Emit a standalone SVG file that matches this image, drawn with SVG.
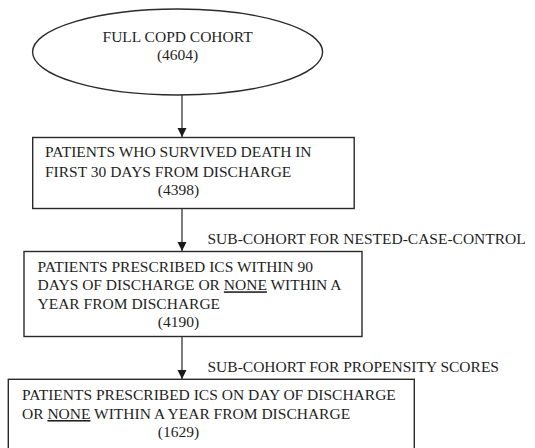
<svg xmlns="http://www.w3.org/2000/svg" width="535" height="448" viewBox="0 0 535 448">
<style>
.shape{fill:#fff;stroke:#2a2a2a;stroke-width:1.4}
.t{font-family:"Liberation Serif","Times New Roman",serif;font-size:15.5px;fill:#1e1e1e}
.c{text-anchor:middle}
.conn line{stroke:#444;stroke-width:1.4}
.u{text-decoration:underline}
</style>
<defs>
<marker id="ah" markerUnits="userSpaceOnUse" markerWidth="9" markerHeight="10" refX="10" refY="5" orient="auto" viewBox="0 0 10 10">
<path d="M0,0 L10,5 L0,10 Z" fill="#1a1a1a"/>
</marker>
</defs>
<rect width="535" height="448" fill="#fff"/>
<g id="connectors" class="conn">
<line x1="182" y1="95" x2="182" y2="137" marker-end="url(#ah)"/>
<line x1="182" y1="208.5" x2="182" y2="251" marker-end="url(#ah)"/>
<line x1="182" y1="336.5" x2="182" y2="379" marker-end="url(#ah)"/>
<text class="t" x="207.5" y="243.5">SUB-COHORT FOR NESTED-CASE-CONTROL</text>
<text class="t" x="207.5" y="372">SUB-COHORT FOR PROPENSITY SCORES</text>
</g>
<g id="n_full">
<ellipse class="shape" cx="177.6" cy="52" rx="145" ry="43"/>
<text class="t c" x="177.6" y="41.5">FULL COPD COHORT</text>
<text class="t c" x="177.6" y="60">(4604)</text>
</g>
<g id="n_survived">
<rect class="shape" x="32.7" y="137.5" width="321.5" height="71"/>
<text class="t" x="45" y="157.3">PATIENTS WHO SURVIVED DEATH IN</text>
<text class="t" x="45" y="176.5">FIRST 30 DAYS FROM DISCHARGE</text>
<text class="t c" x="178.5" y="195">(4398)</text>
</g>
<g id="n_ncc">
<rect class="shape" x="24" y="251.5" width="338" height="85"/>
<text class="t" x="37.5" y="271.7">PATIENTS PRESCRIBED ICS WITHIN 90</text>
<text class="t" x="37.5" y="290.3">DAYS OF DISCHARGE OR <tspan class="u">NONE</tspan> WITHIN A</text>
<text class="t" x="37.5" y="308.7">YEAR FROM DISCHARGE</text>
<text class="t c" x="178.5" y="327.3">(4190)</text>
</g>
<g id="n_ps">
<rect class="shape" x="8.3" y="379.3" width="406" height="80"/>
<text class="t" x="22" y="400">PATIENTS PRESCRIBED ICS ON DAY OF DISCHARGE</text>
<text class="t" x="22" y="419">OR <tspan class="u">NONE</tspan> WITHIN A YEAR FROM DISCHARGE</text>
<text class="t c" x="178.5" y="437.3">(1629)</text>
</g>
</svg>
